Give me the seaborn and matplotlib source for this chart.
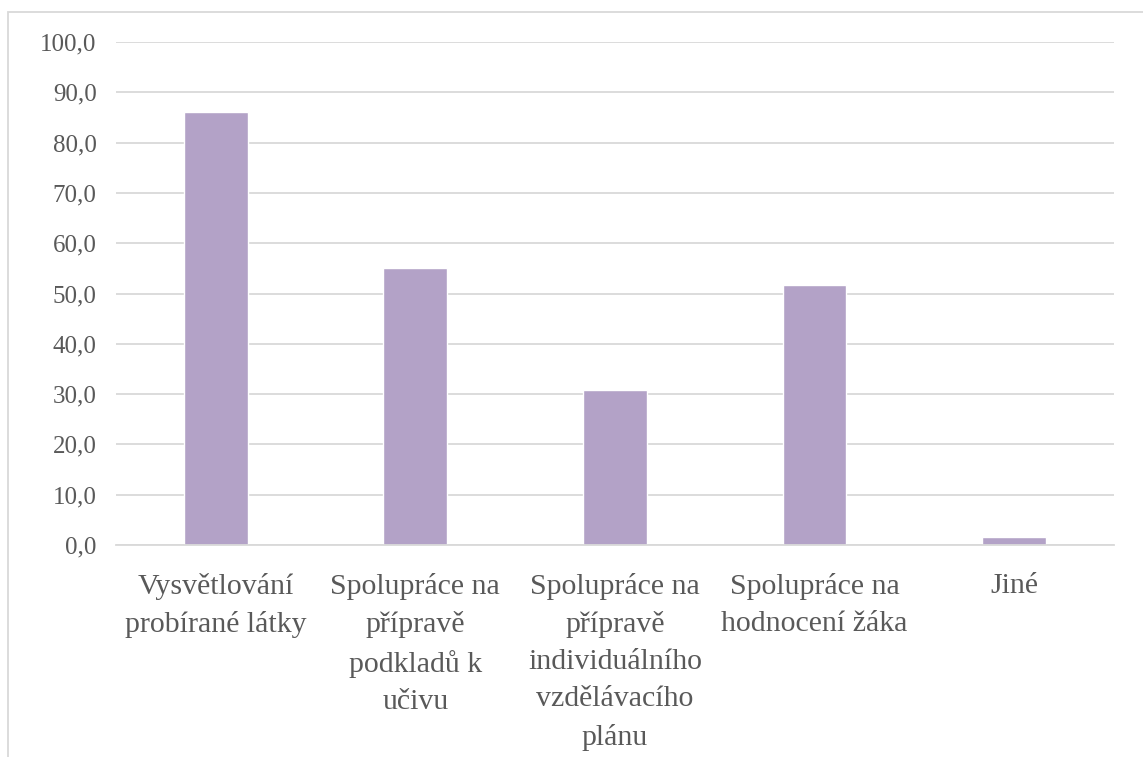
import matplotlib
matplotlib.use("Agg")
import matplotlib.pyplot as plt
import seaborn as sns
import pandas as pd
from matplotlib.patches import Rectangle

# --- data ---
categories = [
    "Vysvětlování\nprobírané látky",
    "Spolupráce na\npřípravě\npodkladů k\nučivu",
    "Spolupráce na\npřípravě\nindividuálního\nvzdělávacího\nplánu",
    "Spolupráce na\nhodnocení žáka",
    "Jiné",
]
values = [86.1, 55.1, 30.9, 51.7, 1.6]
yticks = [0, 10, 20, 30, 40, 50, 60, 70, 80, 90, 100]

df = pd.DataFrame({"kategorie": categories, "procento": values})

sns.set_style("white")
plt.rcParams["font.family"] = ["Liberation Serif", "DejaVu Serif"]

text_col = "#595959"
grid_col = "#D9D9D9"

fig = plt.figure(figsize=(11.43, 7.57), dpi=100)
ax = fig.add_axes([0.1015, 0.28, 0.873, 0.6645])

sns.barplot(data=df, x="kategorie", y="procento", color="#B3A2C7",
            saturation=1, width=0.32, ax=ax)

ax.set_ylim(0, 100)
ax.set_yticks(yticks)
ax.set_yticklabels([f"{t:.1f}".replace(".", ",") for t in yticks])
ax.yaxis.grid(True, color=grid_col, linewidth=1.3)
ax.set_axisbelow(True)
ax.set_xlabel("")
ax.set_ylabel("")
for s in ["left", "right", "top"]:
    ax.spines[s].set_visible(False)
ax.spines["bottom"].set_color(grid_col)
ax.spines["bottom"].set_linewidth(1.3)
ax.tick_params(axis="both", length=0, colors=text_col)
ax.tick_params(axis="y", labelsize=18, pad=14)
ax.tick_params(axis="x", labelsize=21.5, pad=20)
for lbl in ax.get_xticklabels():
    lbl.set_linespacing(1.55)
    lbl.set_va("top")

# chart-area border (top and left visible)
fig.patches.append(Rectangle((8 / 1143, -0.1), 1.2, 1 - 12 / 757 + 0.1,
                             transform=fig.transFigure, fill=False,
                             edgecolor=grid_col, linewidth=1.3))

fig.savefig("out.png", dpi=100)
